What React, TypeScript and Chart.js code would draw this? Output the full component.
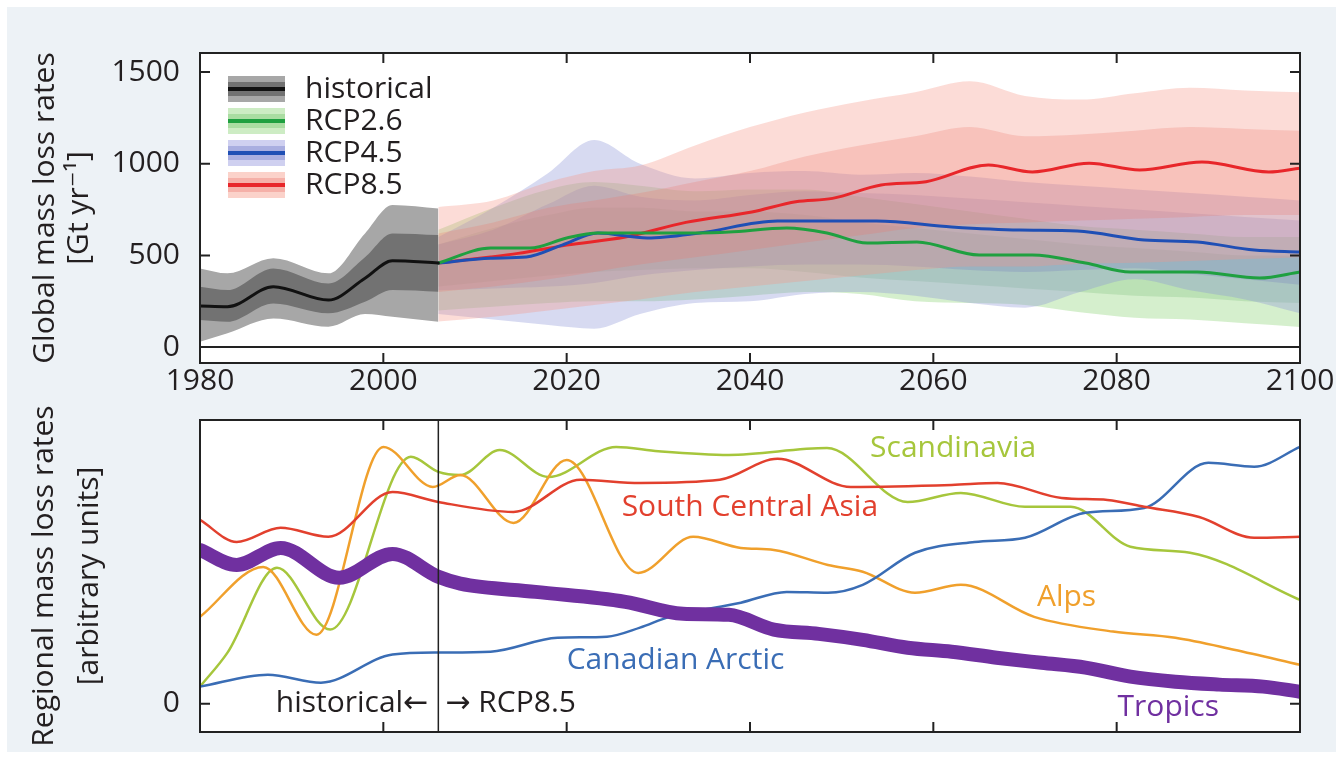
import React, { useEffect, useRef } from 'react';
import { Chart, registerables } from 'chart.js';

Chart.register(...registerables);

const FONT = '"Open Sans", "DejaVu Sans", sans-serif';
const TEXT = '#231f20';

// ---------- axes ----------
const xTicks = [1980, 2000, 2020, 2040, 2060, 2080, 2100];
const globalYTicks = [0, 500, 1000, 1500];
const regionalYTicks = [0];

// ---------- top panel: historical ----------
const histYears = [1980, 1983, 1988, 1994, 1998, 2001, 2006];
const histMean = [224, 220, 329, 256, 375, 471, 458];
const histOuterHigh = [429, 402, 484, 402, 620, 775, 756];
const histOuterLow = [29, 75, 156, 111, 180, 165, 138];
const histInnerHigh = [329, 311, 429, 347, 490, 620, 611];
const histInnerLow = [147, 138, 238, 184, 247, 311, 302];

// ---------- top panel: scenario means ----------
const rcp26Years = [2006, 2011.7, 2016, 2020, 2023.4, 2034.5, 2037.7, 2044, 2048.4, 2052.8, 2058.2, 2065, 2070.8, 2076.6, 2081.5, 2088.8, 2095.6, 2100];
const rcp26 = [458, 540, 540, 595, 622, 622, 627, 649, 622, 567, 573, 502, 502, 458, 409, 409, 376, 409];
const rcp45Years = [2006, 2011.7, 2015.6, 2019.5, 2023.4, 2028.8, 2034.5, 2043, 2053.8, 2062, 2069.4, 2075.7, 2083, 2088.8, 2095, 2100];
const rcp45 = [458, 485, 491, 556, 622, 595, 622, 687, 687, 655, 638, 633, 584, 573, 529, 518];
const rcp85Years = [2006, 2011.7, 2014.7, 2020, 2026.4, 2033, 2040.2, 2045, 2049, 2054.3, 2059.2, 2066, 2070.8, 2077, 2082.5, 2089.3, 2096.6, 2100];
const rcp85 = [458, 491, 511, 556, 600, 680, 737, 793, 811, 884, 902, 993, 955, 1003, 966, 1009, 955, 976];

// ---------- top panel: scenario ranges ----------
const bandYears = [2006, 2012, 2018, 2023, 2028, 2034, 2040, 2046, 2052, 2058, 2064, 2070, 2076, 2082, 2088, 2094, 2100];
const rcp26OuterHigh = [640, 760, 860, 900, 880, 850, 860, 860, 820, 780, 740, 700, 660, 640, 620, 600, 600];
const rcp26OuterLow = [200, 220, 240, 250, 250, 260, 280, 300, 290, 250, 240, 230, 190, 160, 150, 130, 110];
const rcp26InnerHigh = [560, 650, 720, 760, 760, 740, 740, 720, 680, 650, 620, 590, 560, 540, 520, 500, 500];
const rcp26InnerLow = [330, 360, 390, 410, 420, 430, 430, 410, 380, 360, 340, 320, 300, 280, 270, 250, 240];
const rcp45OuterHigh = [600, 760, 950, 1130, 1000, 920, 950, 960, 940, 950, 930, 900, 880, 860, 840, 820, 800];
const rcp45OuterLow = [180, 150, 120, 100, 180, 240, 250, 290, 300, 280, 240, 215, 300, 370, 310, 260, 185];
const rcp45InnerHigh = [560, 640, 780, 880, 820, 800, 830, 850, 840, 830, 810, 790, 770, 750, 730, 710, 690];
const rcp45InnerLow = [310, 320, 330, 350, 390, 420, 440, 450, 450, 440, 420, 410, 420, 430, 400, 370, 340];
const rcp85OuterHigh = [764, 800, 900, 960, 990, 1100, 1200, 1280, 1340, 1390, 1450, 1370, 1350, 1385, 1415, 1400, 1390];
const rcp85OuterLow = [140, 165, 200, 230, 260, 300, 330, 360, 390, 420, 440, 440, 455, 460, 470, 480, 490];
const rcp85InnerHigh = [620, 680, 760, 800, 840, 900, 960, 1040, 1100, 1150, 1200, 1150, 1160, 1180, 1200, 1190, 1180];
const rcp85InnerLow = [300, 330, 370, 410, 450, 490, 530, 570, 610, 650, 670, 680, 690, 700, 710, 720, 720];

const legendLabels = ['historical', 'RCP2.6', 'RCP4.5', 'RCP8.5'];

// ---------- bottom panel: regional (arbitrary units) ----------
const regionLabels = ['Scandinavia', 'South Central Asia', 'Alps', 'Canadian Arctic', 'Tropics'];
const scanYears = [1980, 1983, 1988.4, 1994.2, 2003, 2006, 2008.4, 2012.7, 2018, 2025.4, 2030, 2037.7, 2048.4, 2057.2, 2063, 2070, 2075, 2081.5, 2088, 2100];
const scandinavia = [0.6, 1.8, 4.79, 2.61, 8.7, 8.17, 8.06, 8.94, 7.99, 9.05, 8.9, 8.77, 9.01, 7.11, 7.43, 6.94, 6.94, 5.53, 5.32, 3.66];
const scaYears = [1980, 1984, 1988.8, 1994, 2001, 2006, 2014.2, 2021.5, 2028, 2036.7, 2043, 2051, 2062, 2067, 2074, 2079, 2083, 2089, 2095, 2100];
const southCentralAsia = [6.48, 5.7, 6.2, 5.88, 7.46, 7.11, 6.76, 7.89, 7.78, 7.89, 8.63, 7.64, 7.71, 7.78, 7.25, 7.18, 6.94, 6.58, 5.85, 5.88];
const alpsYears = [1980, 1986.9, 1992.7, 2000, 2005.4, 2008.4, 2014.2, 2020, 2027.8, 2033.8, 2039, 2042.6, 2048.5, 2052.3, 2058, 2063, 2071, 2079.6, 2086.4, 2092.8, 2100];
const alps = [3.06, 4.82, 2.43, 9.05, 7.64, 8.06, 6.37, 8.59, 4.61, 5.88, 5.49, 5.42, 4.89, 4.65, 3.91, 4.19, 3.06, 2.54, 2.32, 1.9, 1.37];
const canYears = [1980, 1987.4, 1993.2, 2001, 2006, 2011.7, 2019, 2024.4, 2028, 2031.2, 2039, 2044, 2048.5, 2052.3, 2058, 2064.5, 2070, 2076.6, 2083, 2090, 2095, 2100];
const canadianArctic = [0.6, 1.02, 0.74, 1.73, 1.8, 1.83, 2.32, 2.36, 2.68, 3.06, 3.56, 3.94, 3.91, 4.19, 5.32, 5.7, 5.85, 6.73, 6.9, 8.49, 8.35, 9.05];
const tropYears = [1980, 1984, 1988.8, 1995.2, 2001, 2006, 2008.4, 2016.6, 2026.4, 2032.7, 2037.7, 2042.6, 2047.5, 2052.3, 2057.2, 2062, 2066.9, 2071.8, 2076.6, 2081.5, 2086.4, 2091.2, 2096, 2100];
const tropics = [5.42, 4.89, 5.49, 4.44, 5.28, 4.47, 4.23, 3.94, 3.59, 3.17, 3.13, 2.61, 2.46, 2.25, 1.97, 1.83, 1.62, 1.44, 1.27, 0.95, 0.77, 0.67, 0.6, 0.42];

const pts = (xs: number[], ys: number[]) => xs.map((x, i) => ({ x, y: ys[i] }));

const COLORS = {
  hist: { line: '#111111', outer: '#a7a7a7', inner: '#727272' },
  rcp26: { line: '#1fa040', outer: 'rgba(150,215,130,0.40)', inner: 'rgba(110,185,110,0.25)', sOuter: '#cdecc4', sInner: '#aadda2' },
  rcp45: { line: '#1f4fb5', outer: 'rgba(140,150,215,0.35)', inner: 'rgba(110,120,190,0.25)', sOuter: '#cfd0f0', sInner: '#a9aee0' },
  rcp85: { line: '#e8262a', outer: 'rgba(245,150,135,0.33)', inner: 'rgba(235,120,110,0.26)', sOuter: '#fbd2ca', sInner: '#f5b0a8' },
};
const regionColors = ['#a6c63c', '#e2402e', '#f0a02c', '#3a6db5', '#7030a0'];

function addBand(ds: any[], years: number[], hi: number[], lo: number[], color: string, order: number) {
  const loIndex = ds.length + 1;
  ds.push({ data: pts(years, hi), fill: loIndex, backgroundColor: color, borderColor: 'transparent', borderWidth: 0, pointRadius: 0, order, cubicInterpolationMode: 'monotone' });
  ds.push({ data: pts(years, lo), fill: false, borderColor: 'transparent', borderWidth: 0, pointRadius: 0, order, cubicInterpolationMode: 'monotone' });
}

function lineDs(years: number[], vals: number[], color: string, width: number, order = 0) {
  return { data: pts(years, vals), borderColor: color, borderWidth: width, pointRadius: 0, fill: false, order, cubicInterpolationMode: 'monotone', borderCapStyle: 'round', borderJoinStyle: 'round' };
}

function framePlugin(zeroLine: boolean, yTickVals: number[]) {
  return {
    id: 'frame',
    beforeDraw(chart: any) {
      const { ctx, chartArea: a } = chart;
      ctx.save();
      ctx.fillStyle = '#ffffff';
      ctx.fillRect(a.left, a.top, a.right - a.left, a.bottom - a.top);
      ctx.restore();
    },
    afterDatasetsDraw(chart: any) {
      const { ctx, chartArea: a, scales } = chart;
      const xs = scales.x, ys = scales.y;
      ctx.save();
      ctx.strokeStyle = '#222222';
      ctx.lineWidth = 2;
      ctx.strokeRect(a.left, a.top, a.right - a.left, a.bottom - a.top);
      const L = 10;
      ctx.beginPath();
      xTicks.forEach((v) => {
        const px = xs.getPixelForValue(v);
        if (px <= a.left + 1 || px >= a.right - 1) return;
        ctx.moveTo(px, a.top); ctx.lineTo(px, a.top + L);
        ctx.moveTo(px, a.bottom); ctx.lineTo(px, a.bottom - L);
      });
      yTickVals.forEach((v) => {
        const py = ys.getPixelForValue(v);
        ctx.moveTo(a.left, py); ctx.lineTo(a.left + L, py);
        ctx.moveTo(a.right, py); ctx.lineTo(a.right - L, py);
      });
      if (zeroLine) {
        const pz = ys.getPixelForValue(0);
        ctx.moveTo(a.left, pz); ctx.lineTo(a.right, pz);
      }
      ctx.stroke();
      ctx.restore();
    },
  };
}

const legendPlugin = {
  id: 'swatchLegend',
  afterDatasetsDraw(chart: any) {
    const { ctx, chartArea: a } = chart;
    const sw = [
      [COLORS.hist.outer, COLORS.hist.inner, COLORS.hist.line],
      [COLORS.rcp26.sOuter, COLORS.rcp26.sInner, COLORS.rcp26.line],
      [COLORS.rcp45.sOuter, COLORS.rcp45.sInner, COLORS.rcp45.line],
      [COLORS.rcp85.sOuter, COLORS.rcp85.sInner, COLORS.rcp85.line],
    ];
    ctx.save();
    legendLabels.forEach((label, i) => {
      const cy = a.top + 36 + i * 32;
      const x0 = a.left + 28;
      const w = 57;
      ctx.fillStyle = sw[i][0];
      ctx.fillRect(x0, cy - 13, w, 26);
      ctx.fillStyle = sw[i][1];
      ctx.fillRect(x0, cy - 7, w, 14);
      ctx.fillStyle = sw[i][2];
      ctx.fillRect(x0, cy - 2, w, 4);
      ctx.fillStyle = TEXT;
      ctx.font = `30px ${FONT}`;
      ctx.textBaseline = 'middle';
      ctx.textAlign = 'left';
      ctx.fillText(label, x0 + 77, cy);
    });
    ctx.restore();
  },
};

const labelAnchors = [
  [2053.1, 9.0],
  [2026.0, 6.9],
  [2071.3, 3.73],
  [2020.0, 1.51],
  [2080.1, -0.14],
];
const SPLIT_YEAR = 2006;

const regionalLabelPlugin = {
  id: 'regionalLabels',
  afterDatasetsDraw(chart: any) {
    const { ctx, chartArea: a, scales } = chart;
    const xs = scales.x, ys = scales.y;
    ctx.save();
    const sx = xs.getPixelForValue(SPLIT_YEAR);
    ctx.strokeStyle = '#222222';
    ctx.lineWidth = 1.5;
    ctx.beginPath();
    ctx.moveTo(sx, a.top); ctx.lineTo(sx, a.bottom);
    ctx.stroke();
    ctx.font = `30px ${FONT}`;
    ctx.textBaseline = 'middle';
    regionLabels.forEach((t, i) => {
      ctx.fillStyle = regionColors[i];
      ctx.textAlign = 'left';
      ctx.fillText(t, xs.getPixelForValue(labelAnchors[i][0]), ys.getPixelForValue(labelAnchors[i][1]));
    });
    ctx.fillStyle = TEXT;
    const y0 = ys.getPixelForValue(0);
    ctx.textAlign = 'right';
    ctx.fillText('historical\u2190', sx - 10, y0);
    ctx.textAlign = 'left';
    ctx.fillText('\u2192 RCP8.5', sx + 7, y0);
    ctx.restore();
  },
};

function baseScales(yMin: number, yMax: number, yTickVals: number[], title: string[], lineHeight: number, titlePad: number, xHeight: number, showX: boolean) {
  return {
    x: {
      type: 'linear', min: 1980, max: 2100,
      afterBuildTicks: (s: any) => { s.ticks = xTicks.map((v) => ({ value: v })); },
      afterFit: (s: any) => { s.height = xHeight; s.paddingLeft = 0; s.paddingRight = 0; },
      grid: { display: false, drawTicks: false },
      border: { display: false },
      ticks: { display: showX, autoSkip: false, maxRotation: 0, padding: 0, color: TEXT, font: { family: FONT, size: 30 }, callback: (v: any) => String(v) },
    },
    y: {
      type: 'linear', min: yMin, max: yMax,
      afterBuildTicks: (s: any) => { s.ticks = yTickVals.map((v) => ({ value: v })); },
      afterFit: (s: any) => { s.width = 200; s.paddingTop = 0; s.paddingBottom = 0; },
      grid: { display: false, drawTicks: false },
      border: { display: false },
      ticks: { padding: 20, color: TEXT, font: { family: FONT, size: 30 }, callback: (v: any) => String(v) },
      title: { display: true, text: title, color: TEXT, font: { family: FONT, size: 30, lineHeight }, padding: { top: titlePad, bottom: 0 } },
    },
  };
}

export default function App() {
  const topRef = useRef<HTMLCanvasElement>(null);
  const botRef = useRef<HTMLCanvasElement>(null);

  useEffect(() => {
    const topDs: any[] = [];
    topDs.push(lineDs(histYears, histMean, COLORS.hist.line, 3, 0));
    topDs.push(lineDs(rcp26Years, rcp26, COLORS.rcp26.line, 3, 0));
    topDs.push(lineDs(rcp45Years, rcp45, COLORS.rcp45.line, 3, 0));
    topDs.push(lineDs(rcp85Years, rcp85, COLORS.rcp85.line, 3, 0));
    addBand(topDs, histYears, histInnerHigh, histInnerLow, COLORS.hist.inner, 1);
    addBand(topDs, histYears, histOuterHigh, histOuterLow, COLORS.hist.outer, 2);
    addBand(topDs, bandYears, rcp85InnerHigh, rcp85InnerLow, COLORS.rcp85.inner, 3);
    addBand(topDs, bandYears, rcp85OuterHigh, rcp85OuterLow, COLORS.rcp85.outer, 4);
    addBand(topDs, bandYears, rcp45InnerHigh, rcp45InnerLow, COLORS.rcp45.inner, 5);
    addBand(topDs, bandYears, rcp45OuterHigh, rcp45OuterLow, COLORS.rcp45.outer, 6);
    addBand(topDs, bandYears, rcp26InnerHigh, rcp26InnerLow, COLORS.rcp26.inner, 7);
    addBand(topDs, bandYears, rcp26OuterHigh, rcp26OuterLow, COLORS.rcp26.outer, 8);

    const top = new Chart(topRef.current as HTMLCanvasElement, {
      type: 'line',
      data: { datasets: topDs },
      options: {
        animation: false,
        responsive: true,
        maintainAspectRatio: false,
        events: [],
        layout: { padding: { top: 53, right: 39, left: 0, bottom: 0 } },
        plugins: { legend: { display: false }, tooltip: { enabled: false } },
        scales: baseScales(-87, 1604, globalYTicks, ['Global mass loss rates', '[Gt yr\u207B\u00B9]'], 1.15, 28, 32, true) as any,
      },
      plugins: [framePlugin(true, globalYTicks), legendPlugin],
    } as any);

    const botDs = [
      lineDs(tropYears, tropics, regionColors[4], 14, 0),
      lineDs(scaYears, southCentralAsia, regionColors[1], 2.5, 1),
      lineDs(canYears, canadianArctic, regionColors[3], 2.5, 1),
      lineDs(alpsYears, alps, regionColors[2], 2.5, 1),
      lineDs(scanYears, scandinavia, regionColors[0], 2.5, 1),
    ];
    const bot = new Chart(botRef.current as HTMLCanvasElement, {
      type: 'line',
      data: { datasets: botDs },
      options: {
        animation: false,
        responsive: true,
        maintainAspectRatio: false,
        events: [],
        layout: { padding: { top: 25, right: 39, left: 0, bottom: 0 } },
        plugins: { legend: { display: false }, tooltip: { enabled: false } },
        scales: baseScales(-1, 10, regionalYTicks, ['Regional mass loss rates', '[arbitrary units]'], 1.5, 22, 28, false) as any,
      },
      plugins: [framePlugin(false, regionalYTicks), regionalLabelPlugin],
    } as any);

    return () => { top.destroy(); bot.destroy(); };
  }, []);

  return (
    <div style={{ position: 'fixed', left: 0, top: 0, width: 1339, height: 760, background: '#ffffff', overflow: 'hidden' }}>
      <div style={{ position: 'absolute', left: 7, top: 7, width: 1329, height: 745, background: '#edf2f6' }} />
      <div style={{ position: 'absolute', left: 0, top: 0, width: 1339, height: 395 }}>
        <canvas ref={topRef} />
      </div>
      <div style={{ position: 'absolute', left: 0, top: 395, width: 1339, height: 365 }}>
        <canvas ref={botRef} />
      </div>
    </div>
  );
}
